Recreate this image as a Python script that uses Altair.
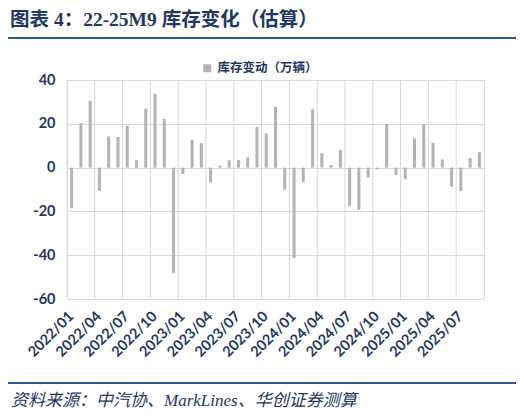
import altair as alt
import pandas as pd

months = [f"{y}/{m:02d}" for y in (2022, 2023, 2024) for m in range(1, 13)] + [f"2025/{m:02d}" for m in range(1, 10)]
values = [
    -18.6, 20.3, 30.5, -10.7, 14.2, 14.0, 19.1, 3.4, 26.9, 33.7, 22.3, -48.1,
    -2.9, 12.7, 11.1, -6.7, 0.8, 3.4, 3.5, 4.7, 18.6, 15.6, 27.8, -10.1,
    -41.2, -6.7, 26.7, 6.6, 1.2, 8.1, -17.6, -19.4, -4.4, -0.8, 20.0, -3.4,
    -5.3, 13.4, 19.7, 11.3, 3.7, -8.7, -10.8, 4.3, 7.0,
]
series_name = "库存变动（万辆）"
title_text = "图表 4：22-25M9 库存变化（估算）"
source_text = "资料来源：中汽协、MarkLines、华创证券测算"
y_ticks = [-60, -40, -20, 0, 20, 40]
x_ticks = months[::3]

NAVY = "#1F3864"
BLUE = "#2E5597"
GRID = "#D9D9D9"
BAR = "#B3B3B3"

df = pd.DataFrame({"month": months, "value": values, "series": series_name})
grid_df = pd.DataFrame({"month": x_ticks})

W, H = 417, 219

tick_list = "[" + ",".join(f"'{t}'" for t in x_ticks) + "]"

x_scale = alt.Scale(domain=months, paddingInner=0, paddingOuter=0)
x_axis = alt.Axis(
    title=None, grid=False,
    labelExpr=f"indexof({tick_list}, datum.value) >= 0 ? datum.value : ''",
    labelAngle=-45, labelAlign="right",
    labelBaseline="middle", labelPadding=15, ticks=False, domain=False,
    labelOverlap=False,
    labelFont="Lato", labelFontWeight="bold", labelFontSize=14.5,
    labelColor=NAVY,
)

vgrid = alt.Chart(grid_df).mark_rule(color=GRID, strokeWidth=1).encode(
    x=alt.X("month:N", scale=x_scale, bandPosition=0, axis=x_axis),
    y=alt.value(0), y2=alt.value(H),
)

bars = alt.Chart(df).mark_bar(size=3, color=BAR).encode(
    x=alt.X("month:N", scale=x_scale, axis=x_axis),
    y=alt.Y(
        "value:Q",
        scale=alt.Scale(domain=[-60, 40], nice=False),
        axis=alt.Axis(
            title=None, values=y_ticks, grid=True, gridColor=GRID, gridWidth=1,
            ticks=False, domain=False, labelPadding=12,
            labelExpr="toString(datum.value)",
            labelFont="Lato", labelFontWeight="bold", labelFontSize=14.5,
            labelColor=NAVY,
        ),
    ),
    color=alt.Color(
        "series:N",
        scale=alt.Scale(range=[BAR]),
        legend=alt.Legend(
            title=None, orient="none", legendX=134, legendY=-18,
            symbolType="square", symbolSize=64, symbolStrokeWidth=0,
            labelFont="Noto Sans CJK SC", labelFontWeight="bold",
            labelFontSize=12.5, labelColor=NAVY, padding=0,
        ),
    ),
)

title = alt.Chart(pd.DataFrame({"t": [title_text]})).mark_text(
    align="left", baseline="middle", font="Liberation Serif, Noto Sans CJK SC",
    fontWeight="bold", fontSize=19.5, color=NAVY,
).encode(text="t:N", x=alt.value(-57), y=alt.value(-60))

source = alt.Chart(pd.DataFrame({"t": [source_text]})).mark_text(
    align="left", baseline="middle", font="Liberation Serif, Noto Sans CJK SC",
    fontStyle="italic", fontSize=17, color=NAVY,
).encode(text="t:N", x=alt.value(-56), y=alt.value(321))

top_line = alt.Chart(pd.DataFrame({"t": [0]})).mark_rule(color=BLUE, strokeWidth=2).encode(
    x=alt.value(-59), x2=alt.value(451), y=alt.value(-42)
)
bottom_line = alt.Chart(pd.DataFrame({"t": [0]})).mark_rule(color=BLUE, strokeWidth=2).encode(
    x=alt.value(-59), x2=alt.value(451), y=alt.value(303)
)

chart = alt.layer(vgrid, bars, title, source, top_line, bottom_line).properties(
    width=W, height=H,
    autosize=alt.AutoSizeParams(type="none"),
    padding={"left": 59, "top": 72, "right": 32, "bottom": 111},
).configure_view(stroke=GRID, strokeWidth=1).configure(background="white")

chart.save("out.html", embed_options={"renderer": "svg", "actions": False})
